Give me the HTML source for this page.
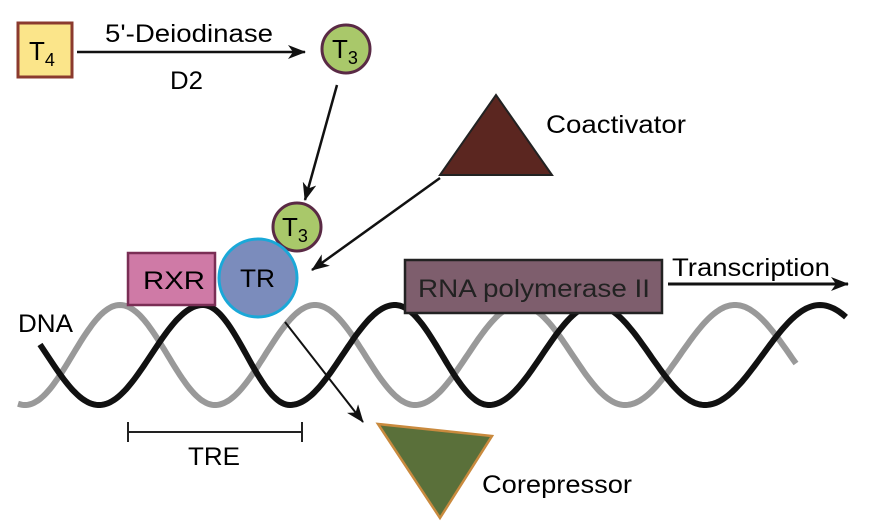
<!DOCTYPE html>
<html><head><meta charset="utf-8"><style>
html,body{margin:0;padding:0;background:#fff;}
svg{display:block;font-family:"Liberation Sans",sans-serif;}
</style></head><body>
<svg id="s" width="892" height="527" viewBox="0 0 892 527" xmlns="http://www.w3.org/2000/svg">
<defs>
<marker id="b" markerWidth="18" markerHeight="14" refX="17" refY="7" orient="auto" markerUnits="userSpaceOnUse"><path d="M0,0 L18,7 L0,14 L5,7 z" fill="#111"/></marker></defs>
<path id="gray" fill="none" stroke="#999" stroke-width="6"/>
<path id="black" fill="none" stroke="#111" stroke-width="6"/>
<rect x="18" y="23" width="54" height="54" fill="#fbe58a" stroke="#8b3a2e" stroke-width="3"/>
<text x="29" y="60" font-size="26">T<tspan font-size="18" dy="6">4</tspan></text>
<line x1="77" y1="52" x2="305" y2="52" stroke="#111" stroke-width="2.5" marker-end="url(#b)"/>
<text x="105" y="42" font-size="25" textLength="168" lengthAdjust="spacingAndGlyphs">5'-Deiodinase</text>
<text x="170" y="89" font-size="25" textLength="33" lengthAdjust="spacingAndGlyphs">D2</text>
<circle cx="346" cy="49" r="24" fill="#a9c86a" stroke="#5a2a45" stroke-width="3"/>
<text x="332" y="58" font-size="26">T<tspan font-size="18" dy="6">3</tspan></text>
<line x1="337" y1="85" x2="305" y2="200" stroke="#111" stroke-width="2.5" marker-end="url(#b)"/>
<circle cx="297" cy="227" r="24" fill="#a9c86a" stroke="#5a2a45" stroke-width="3"/>
<text x="282" y="236" font-size="26">T<tspan font-size="18" dy="6">3</tspan></text>
<rect x="128" y="253" width="87" height="52" fill="#cf7aa6" stroke="#7a2e55" stroke-width="2.5"/>
<text x="143" y="289" font-size="25" textLength="62" lengthAdjust="spacingAndGlyphs">RXR</text>
<circle cx="258" cy="278" r="39" fill="#7b8cbc" stroke="#1aa8d8" stroke-width="3"/>
<text x="240" y="287" font-size="25" textLength="35" lengthAdjust="spacingAndGlyphs">TR</text>
<polygon points="440,175 552,175 496,95" fill="#5b2620" stroke="#222" stroke-width="2"/>
<text x="546" y="133" font-size="25" textLength="140" lengthAdjust="spacingAndGlyphs">Coactivator</text>
<line x1="440" y1="178" x2="312" y2="270" stroke="#111" stroke-width="2.5" marker-end="url(#b)"/>
<rect x="405" y="260" width="257" height="53" fill="#7e5e6d" stroke="#222" stroke-width="2.5"/>
<text x="418" y="297" font-size="25" textLength="232" lengthAdjust="spacingAndGlyphs" fill="#222">RNA polymerase II</text>
<text x="672" y="276" font-size="25" textLength="158" lengthAdjust="spacingAndGlyphs">Transcription</text>
<line x1="668" y1="284" x2="848" y2="284" stroke="#111" stroke-width="3" marker-end="url(#b)"/>
<text x="18" y="332" font-size="25" textLength="55" lengthAdjust="spacingAndGlyphs">DNA</text>
<line x1="285" y1="322" x2="363" y2="422" stroke="#111" stroke-width="2" marker-end="url(#b)"/>
<polygon points="378,424 492,436 440,518" fill="#5a703a" stroke="#c98a3e" stroke-width="2.5"/>
<text x="482" y="493" font-size="25" textLength="150" lengthAdjust="spacingAndGlyphs">Corepressor</text>
<line x1="128" y1="432" x2="302" y2="432" stroke="#222" stroke-width="2"/>
<line x1="128" y1="422" x2="128" y2="442" stroke="#222" stroke-width="2"/>
<line x1="302" y1="422" x2="302" y2="442" stroke="#222" stroke-width="2"/>
<text x="188" y="465" font-size="25" textLength="52" lengthAdjust="spacingAndGlyphs">TRE</text>
</svg>
<script>
function wave(ex,x0,x1,firstLow){
  var d="";
  function yAt(x){
    var i=0;
    while(i<ex.length-2 && x>ex[i+1]) i++;
    var xa=ex[i],xb=ex[i+1];
    var low=(i%2==0)?firstLow:!firstLow;
    var c=Math.cos(Math.PI*(x-xa)/(xb-xa));
    return low? 355+50*c : 355-50*c;
  }
  for(var x=x0;x<=x1;x+=2){d+=(x==x0?"M":"L")+x+","+yAt(x).toFixed(1);}
  return d;
}
document.getElementById("black").setAttribute("d",wave([99,203,290,395,489,595,705,820],40,847,true));
document.getElementById("gray").setAttribute("d",wave([120,215,315,415,520,625,735],18,797,false));
</script>
</body></html>
